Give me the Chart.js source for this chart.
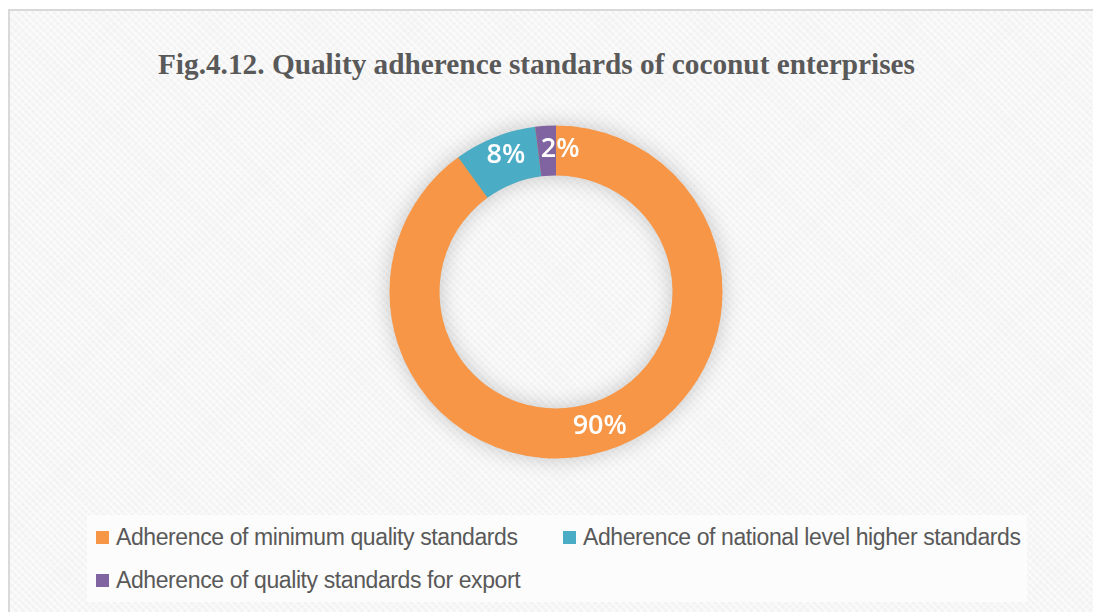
<!DOCTYPE html>
<html>
<head>
<meta charset="utf-8">
<script src="https://cdn.jsdelivr.net/npm/chart.js@4"></script>
<style>
  html, body { margin: 0; padding: 0; background: #fff; }
  #frame {
    position: absolute; left: 8px; top: 9px; width: 1100px; height: 620px;
    border: 2px solid #d9d9d9; border-right: none; border-bottom: none;
    background-color: #f3f3f3;
    background-image: repeating-linear-gradient(45deg, rgba(255,255,255,0.55) 0 2px, rgba(255,255,255,0) 2px 5px),
                      repeating-linear-gradient(-45deg, rgba(255,255,255,0.35) 0 2px, rgba(255,255,255,0) 2px 5px);
  }
  #title {
    position: absolute; left: 0; width: 1073px; top: 48px; text-align: center;
    font-family: "Liberation Serif", serif; font-weight: bold; font-size: 29.3px; color: #595959;
  }
  #chart-wrap { position: absolute; left: 346px; top: 82px; width: 420px; height: 420px; }
  #legend {
    position: absolute; left: 87px; top: 515px; width: 940px; height: 87px;
    background: #fcfcfc;
    font-family: "Liberation Sans", Arial, sans-serif; font-size: 23px; color: #595959;
    letter-spacing: -0.4px;
  }
  .item { position: absolute; white-space: nowrap; line-height: 26px; }
  .item span.box { display: inline-block; width: 13px; height: 13px; margin-right: 7px; vertical-align: 1px; }
</style>
</head>
<body>
<div id="frame"></div>
<div id="title">Fig.4.12. Quality adherence standards of coconut enterprises</div>
<div id="chart-wrap"><canvas id="donut"></canvas></div>
<div id="legend"></div>
<script>
const categories = [
  'Adherence of minimum quality standards',
  'Adherence of national level higher standards',
  'Adherence of quality standards for export'
];
const shares = [90, 8, 2];
const colors = ['#F79646', '#4BACC6', '#8064A2'];

// legend laid out like the Excel one: two on the first row, one below
const legendSlots = [[9, 9], [476, 9], [9, 52]];
const legendEl = document.getElementById('legend');
categories.forEach((c, i) => {
  const d = document.createElement('div');
  d.className = 'item';
  d.style.left = legendSlots[i][0] + 'px';
  d.style.top = legendSlots[i][1] + 'px';
  d.innerHTML = `<span class="box" style="background:${colors[i]}"></span>${c}`;
  legendEl.appendChild(d);
});

// soft grey glow: one whole ring under the slices, so no seams between them
const ringShadow = {
  id: 'ringShadow',
  beforeDatasetsDraw(chart) {
    const { ctx } = chart;
    const a = chart.getDatasetMeta(0).data[0];
    if (!a) return;
    ctx.save();
    ctx.shadowColor = 'rgba(0,0,0,0.22)';
    ctx.shadowBlur = 22;
    ctx.fillStyle = colors[0];
    ctx.beginPath();
    ctx.arc(a.x, a.y, a.outerRadius - 0.5, 0, Math.PI * 2);
    ctx.arc(a.x, a.y, a.innerRadius + 0.5, 0, Math.PI * 2, true);
    ctx.fill();
    ctx.restore();
  }
};

const sliceLabels = {
  id: 'sliceLabels',
  afterDatasetsDraw(chart) {
    const { ctx } = chart;
    const meta = chart.getDatasetMeta(0);
    const nudge = [[0, 0], [2, -5], [13, -1]];
    ctx.save();
    ctx.font = '600 27px "Open Sans", sans-serif';
    ctx.fillStyle = '#ffffff';
    ctx.textAlign = 'center';
    ctx.textBaseline = 'middle';
    meta.data.forEach((arc, i) => {
      const p = arc.tooltipPosition();
      ctx.fillText(shares[i] + '%', p.x + nudge[i][0], p.y + nudge[i][1]);
    });
    ctx.restore();
  }
};

new Chart(document.getElementById('donut'), {
  type: 'doughnut',
  data: {
    labels: categories,
    datasets: [{
      data: shares,
      backgroundColor: colors,
      borderWidth: 0
    }]
  },
  options: {
    responsive: true,
    maintainAspectRatio: false,
    animation: false,
    cutout: '70%',
    layout: { padding: 43.5 },
    plugins: {
      legend: { display: false },
      tooltip: { enabled: false }
    }
  },
  plugins: [ringShadow, sliceLabels]
});
</script>
</body>
</html>
